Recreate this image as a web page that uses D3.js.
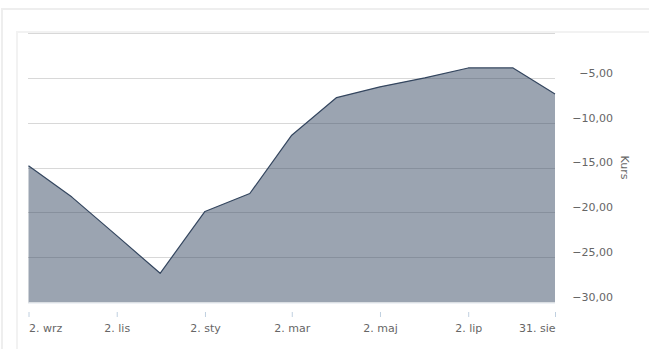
<!DOCTYPE html>
<html><head><meta charset="utf-8">
<script src="https://cdn.jsdelivr.net/npm/d3@7"></script>
<style>body{margin:0;background:#fff}svg{display:block}</style>
</head><body>
<svg id="c" width="649" height="349"></svg>
<script>
const dates = ["2015-09-02","2015-10-02","2015-11-02","2015-12-02","2016-01-02","2016-02-02","2016-03-02","2016-04-02","2016-05-02","2016-06-02","2016-07-02","2016-08-02","2016-08-31"];
const values = [-14.8,-18.3,-22.6,-26.8,-19.9,-17.9,-11.4,-7.2,-6.0,-5.0,-3.9,-3.9,-6.8];
const xTickDates = ["2015-09-02","2015-11-02","2016-01-02","2016-03-02","2016-05-02","2016-07-02","2016-08-31"];
const xTickLabels = ["2. wrz","2. lis","2. sty","2. mar","2. maj","2. lip","31. sie"];
const yTicks = [-30,-25,-20,-15,-10,-5,0];
const yTickLabels = ["\u221230,00","\u221225,00","\u221220,00","\u221215,00","\u221210,00","\u22125,00",""];
const yTitle = "Kurs";

const parse = d3.timeParse("%Y-%m-%d");
const data = dates.map((d,i)=>({d:parse(d), v:values[i]}));
const svg = d3.select("#c");
const font = "DejaVu Sans, sans-serif";

// frames
svg.append("path").attr("d","M2,349V9H649").attr("fill","none").attr("stroke","#eeeeee").attr("stroke-width",2);
svg.append("path").attr("d","M17,349V32H649").attr("fill","none").attr("stroke","#f2f2f2").attr("stroke-width",2);

const L=28.5, R=555, T=33, B=302;
const x = d3.scaleTime().domain([parse(dates[0]), parse(dates[dates.length-1])]).range([L,R]);
const y = d3.scaleLinear().domain([-30,0]).range([B,T]);

// grid
svg.append("g").selectAll("line").data(yTicks).join("line")
  .attr("x1",L-0.5).attr("x2",R).attr("y1",d=>Math.round(y(d))+0.5).attr("y2",d=>Math.round(y(d))+0.5)
  .attr("stroke","#d8d8d8").attr("stroke-width",1);

// area
const area = d3.area().x(d=>x(d.d)).y0(y(-30)).y1(d=>y(d.v));
svg.append("path").datum(data).attr("d",area).attr("fill","#34465f").attr("fill-opacity",0.49);
const line = d3.line().x(d=>x(d.d)).y(d=>y(d.v));
svg.append("path").datum(data).attr("d",line).attr("fill","none").attr("stroke","#34465f").attr("stroke-width",1.2).attr("stroke-linejoin","round");

// x axis
svg.append("line").attr("x1",L-0.5).attr("x2",R).attr("y1",B+1).attr("y2",B+1).attr("stroke","#dfe6ee");
const xt = xTickDates.map(parse);
const xAxis = d3.axisBottom(x).tickValues(xt).tickSize(5).tickFormat((d,i)=>xTickLabels[i]);
const gx = svg.append("g").attr("transform",`translate(0,${B+10})`).call(xAxis);
gx.select(".domain").remove();
gx.selectAll(".tick line").attr("stroke","#c0d0e0");
gx.selectAll(".tick text").attr("font-family",font).attr("font-size",11).attr("fill","#666666")
  .attr("y",20).attr("dy",0)
  .attr("text-anchor",(d,i)=> i===0?"start":(i===xt.length-1?"end":"middle"));

// y axis (right)
const yAxis = d3.axisRight(y).tickValues(yTicks).tickSize(0).tickFormat((d,i)=>yTickLabels[i]);
const gy = svg.append("g").attr("transform",`translate(613,0)`).call(yAxis);
gy.select(".domain").remove();
gy.selectAll(".tick text").attr("font-family",font).attr("font-size",11).attr("fill","#666666")
  .attr("text-anchor","end").attr("x",0).attr("dy","-0.15em");

svg.append("text").attr("transform",`translate(621,${(T+B)/2}) rotate(90)`)
  .attr("text-anchor","middle").attr("font-family",font).attr("font-size",11).attr("fill","#666666").text(yTitle);
</script>
</body></html>
